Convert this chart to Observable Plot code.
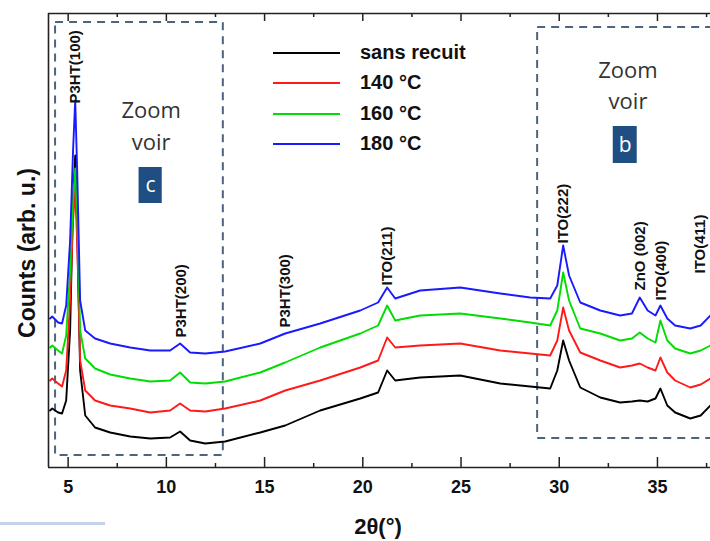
<!DOCTYPE html>
<html><head><meta charset="utf-8">
<script src="https://cdn.jsdelivr.net/npm/d3@7"></script>
<script src="https://cdn.jsdelivr.net/npm/@observablehq/plot@0.6"></script>
<style>
body{margin:0;background:#fff;}
#wrap{position:relative;width:710px;height:541px;overflow:hidden;background:#fff;font-family:"Liberation Sans",Arial,sans-serif;}
#wrap svg{position:absolute;left:0;top:0;}
.lg{position:absolute;left:273px;width:67px;height:2px;}
.lt{position:absolute;left:360px;font-weight:bold;font-size:20px;color:#111;line-height:20px;}
#ylab{position:absolute;left:27px;top:253px;transform:translate(-50%,-50%) rotate(-90deg);white-space:nowrap;font-weight:bold;font-size:23px;color:#111;}
#xlab{position:absolute;left:378px;top:527px;transform:translate(-50%,-50%);font-weight:bold;font-size:22px;color:#111;white-space:nowrap;}
#deco{position:absolute;left:0;top:522px;width:105px;height:3px;background:#c5d3ea;}
</style></head><body><div id="wrap"></div>
<script>
// 2θ (degrees)
const twoTheta = [4.08,4.19,4.49,4.69,4.90,5.10,5.25,5.36,5.46,5.61,5.87,6.37,7.14,8.16,9.18,10.19,10.70,11.21,11.98,12.99,14.78,16.05,17.83,19.87,20.78,21.24,21.65,22.92,24.96,27.0,28.52,29.54,29.9,30.2,30.5,31.07,32.09,33.1,33.7,34.1,34.5,34.9,35.15,35.5,35.9,36.67,37.2,37.7];
// counts (arb. u.), stacked curves
const sansRecuit = [57,59,55,54,67,137,267,312,237,97,52,40,35,31,29,30,36,27,24,26,35,42,57,69,75,97,87,90,92,84,81,79,97,127,107,80,70,65,66,67,66,69,79,62,55,49,52,62];
const c140 = [87,89,84,81,97,167,247,277,227,107,77,67,62,59,55,57,64,57,56,59,67,77,87,100,107,130,120,122,124,117,114,112,127,160,137,115,107,100,102,104,100,97,110,95,87,80,83,89];
const c160 = [120,122,117,114,132,197,267,299,257,137,109,99,93,89,86,87,95,85,84,86,95,105,120,134,142,162,147,152,154,149,145,142,157,195,167,139,134,127,129,135,129,125,147,127,119,114,117,122];
const c180 = [149,151,145,144,162,227,317,367,297,167,137,129,124,120,117,117,124,115,114,116,124,134,144,157,165,180,169,177,180,174,170,169,182,222,192,165,157,152,154,170,157,152,162,149,142,139,142,152];

const seriesNames = ["sans recuit","140 °C","160 °C","180 °C"];
const seriesColors = ["#000000","#ff1a1a","#00dd00","#1a1aff"];

// peak annotations
const peakLabels = ["P3HT(100)","P3HT(200)","P3HT(300)","ITO(211)","ITO(222)","ZnO (002)","ITO(400)","ITO(411)"];
const peakX = [5.36,10.75,16.07,21.24,30.18,34.1,35.2,37.2];
const peakLabelBase = [364,130,140,182,224,177,167,194];

// axis ticks
const majorTicks = [5,10,15,20,25,30,35];
const minorTicks = [7.5,12.5,17.5,22.5,27.5,32.5,37.5];

// zoom boxes
const zoomX1 = [4.36,28.9];
const zoomX2 = [12.9,38.6];
const zoomY1 = [12,29];
const zoomY2 = [445,440];
const zoomTextX = [9.23,33.5];
const zoomTextY1 = [357,397];
const zoomTextY2 = [325,366];
const badgeLetters = ["c","b"];
const badgeX1 = [8.61,32.75];
const badgeX2 = [9.79,33.97];
const badgeY1 = [264,304];
const badgeY2 = [300,341];

const series = [sansRecuit,c140,c160,c180];
const rows = [];
series.forEach((vals,i)=>vals.forEach((v,j)=>rows.push({x:twoTheta[j],y:v,s:seriesNames[i]})));
const peaks = peakLabels.map((t,i)=>({t,x:peakX[i],y:peakLabelBase[i]}));
const boxes = zoomX1.map((d,i)=>({x1:zoomX1[i],x2:zoomX2[i],y1:zoomY1[i],y2:zoomY2[i],tx:zoomTextX[i],ty1:zoomTextY1[i],ty2:zoomTextY2[i],b:badgeLetters[i],bx1:badgeX1[i],bx2:badgeX2[i],by1:badgeY1[i],by2:badgeY2[i]}));
const ymax = 454, xmin = 4, xmax = 37.7;
const axisCol = "#222";

const chart = Plot.plot({
  width:710, height:541,
  marginLeft:48, marginRight:0, marginTop:13, marginBottom:74,
  x:{domain:[xmin,xmax]},
  y:{domain:[0,ymax], axis:null},
  color:{domain:seriesNames, range:seriesColors},
  style:{fontFamily:"Liberation Sans, Arial, sans-serif", background:"transparent"},
  marks:[
    Plot.rect(boxes,{x1:"x1",x2:"x2",y1:"y1",y2:"y2",fill:"none",stroke:"#4d6480",strokeWidth:2,strokeDasharray:"8,6"}),
    Plot.line(rows,{x:"x",y:"y",z:"s",stroke:"s",strokeWidth:1.9}),
    Plot.text(peaks,{x:"x",y:"y",text:"t",rotate:-90,textAnchor:"start",fontSize:15,fontWeight:"bold",fill:"#111"}),
    Plot.text(boxes,{x:"tx",y:"ty1",text:()=>"Zoom",fontSize:22,fontFamily:"Open Sans",fill:"#333"}),
    Plot.text(boxes,{x:"tx",y:"ty2",text:()=>"voir",fontSize:22,fontFamily:"Open Sans",fill:"#333"}),
    Plot.rect(boxes,{x1:"bx1",x2:"bx2",y1:"by1",y2:"by2",fill:"#1f4e82"}),
    Plot.text(boxes,{x:d=>(d.bx1+d.bx2)/2,y:d=>(d.by1+d.by2)/2,text:"b",fontSize:21,fontFamily:"Open Sans",fill:"#fff"}),
    Plot.ruleY([0],{stroke:axisCol,strokeWidth:1.6}),
    Plot.ruleY([ymax],{stroke:axisCol,strokeWidth:1.6}),
    Plot.ruleX([xmin],{stroke:axisCol,strokeWidth:1.6}),
    Plot.ruleX(majorTicks,{x:d=>d,y1:0,y2:10,stroke:axisCol,strokeWidth:1.5}),
    Plot.ruleX(minorTicks,{x:d=>d,y1:0,y2:4,stroke:axisCol,strokeWidth:1.5}),
    Plot.ruleX(majorTicks,{x:d=>d,y1:ymax-8,y2:ymax,stroke:axisCol,strokeWidth:1.5}),
    Plot.ruleX(minorTicks,{x:d=>d,y1:ymax-4,y2:ymax,stroke:axisCol,strokeWidth:1.5}),
    Plot.axisX(majorTicks,{tickSize:0,tickPadding:13,fontSize:18,fontWeight:"bold",fill:"#111",label:null})
  ]
});
const wrap = document.getElementById("wrap");
wrap.appendChild(chart);
const legY = [52,82,113,143];
seriesNames.forEach((n,i)=>{
  const l=document.createElement("div");l.className="lg";l.style.top=legY[i]+"px";l.style.background=seriesColors[i];wrap.appendChild(l);
  const t=document.createElement("div");t.className="lt";t.style.top=(legY[i]-10)+"px";t.textContent=n;wrap.appendChild(t);
});
const yl=document.createElement("div");yl.id="ylab";yl.textContent="Counts (arb. u.)";wrap.appendChild(yl);
const xl=document.createElement("div");xl.id="xlab";xl.textContent="2θ(°)";wrap.appendChild(xl);
const dc=document.createElement("div");dc.id="deco";wrap.appendChild(dc);
</script></body></html>
